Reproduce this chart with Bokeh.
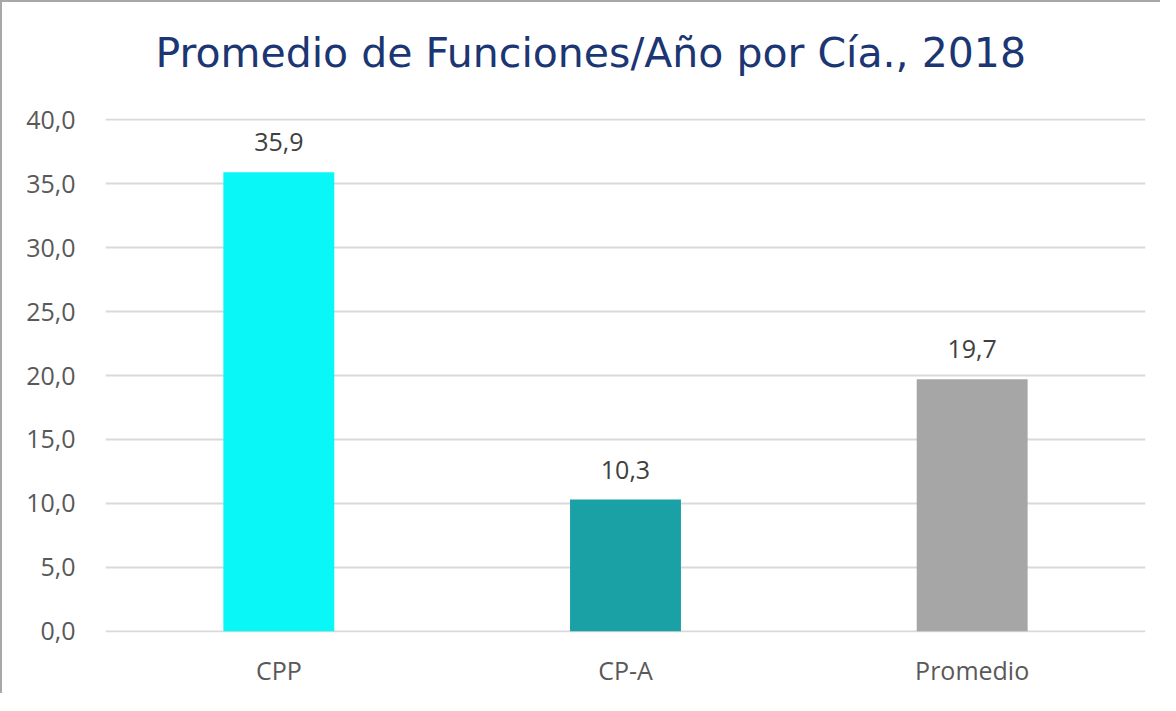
from bokeh.plotting import figure
from bokeh.models import ColumnDataSource, LabelSet, FixedTicker, Range1d, Title
from bokeh.core.properties import value
from bokeh.embed import file_html
from bokeh.resources import INLINE

categories = ["CPP", "CP-A", "Promedio"]
values = [35.9, 10.3, 19.7]
colors = ["#0AF7F7", "#1AA1A6", "#A6A6A6"]
y_ticks = [0, 5, 10, 15, 20, 25, 30, 35, 40]
title_text = "Promedio de Funciones/Año por Cía., 2018"

labels = [f"{v:.1f}".replace(".", ",") for v in values]
src = ColumnDataSource(dict(cat=categories, val=values, color=colors, lab=labels))

p = figure(x_range=categories, y_range=Range1d(-0.1, 40.1), width=1160, height=693,
           output_backend="svg", toolbar_location=None,
           min_border_left=103, min_border_right=17, min_border_top=116, min_border_bottom=63)
p.styles = {"border-left": "2px solid #A8A8A8", "border-top": "2px solid #A8A8A8"}

# spacer panel between the plot area and the title
p.add_layout(Title(text="\u00a0", text_font="DejaVu Sans", text_font_size="10px",
                   standoff=24), "above")

p.title.text = title_text
p.title.text_font = "DejaVu Sans"
p.title.text_font_size = "41px"
p.title.text_font_style = "normal"
p.title.text_color = "#1B3672"
p.title.align = "left"
p.title.offset = 50
p.title.standoff = 10

p.vbar(x="cat", top="val", width=0.32, bottom=0, color="color", line_color=None, source=src)

p.add_layout(LabelSet(x="cat", y="val", text="lab", source=src, y_offset=21,
                      text_align="center", text_baseline="bottom",
                      text_font=value("Open Sans"), text_font_size=value("25px"),
                      text_color="#404040"))

p.yaxis.ticker = FixedTicker(ticks=y_ticks)
p.yaxis.major_label_overrides = {t: f"{t:.1f}".replace(".", ",") for t in y_ticks}
for ax in (p.xaxis, p.yaxis):
    ax.axis_line_color = None
    ax.major_tick_line_color = None
    ax.minor_tick_line_color = None
    ax.major_label_text_font = "Open Sans"
    ax.major_label_text_font_size = "25px"
    ax.major_label_text_color = "#595959"
p.yaxis.major_label_standoff = 24
p.xaxis.major_label_standoff = 14

p.xgrid.grid_line_color = None
p.ygrid.grid_line_color = "#D9D9D9"
p.ygrid.grid_line_width = 2
p.outline_line_color = None
p.background_fill_color = "white"
p.border_fill_color = "white"

open("out.html", "w").write(file_html(p, INLINE))
